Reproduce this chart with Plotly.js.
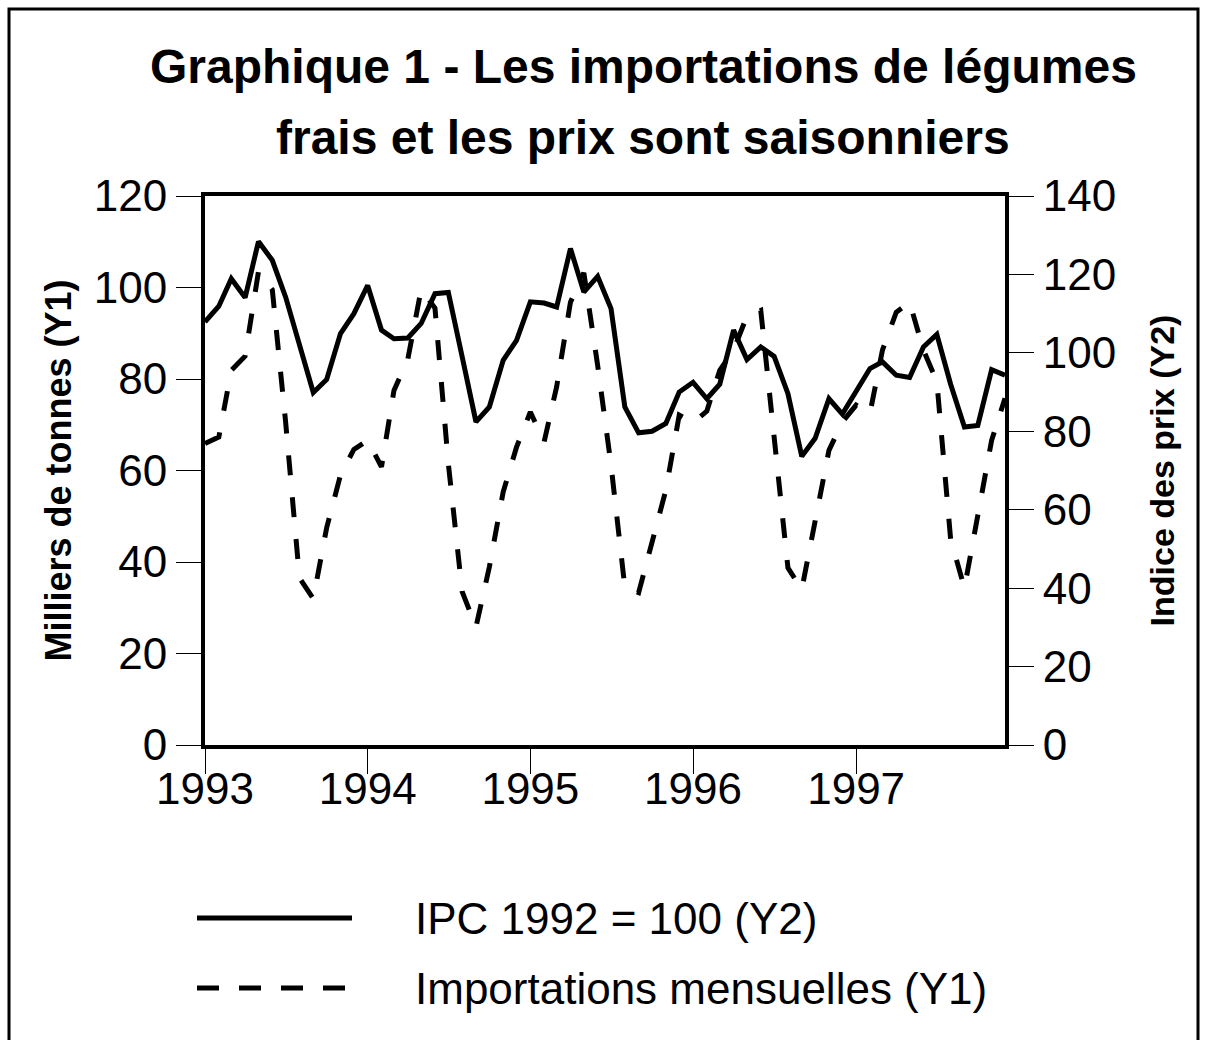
<!DOCTYPE html>
<html>
<head>
<meta charset="utf-8">
<script src="https://cdn.plot.ly/plotly-3.0.1.min.js"></script>
<style>
html,body{margin:0;padding:0;background:#ffffff;}
#chart{width:1207px;height:1040px;}
</style>
</head>
<body>
<div id="chart"></div>
<script>
// ---- Data ----
const months = [
  '1993-01','1993-02','1993-03','1993-04','1993-05','1993-06','1993-07','1993-08','1993-09','1993-10','1993-11','1993-12',
  '1994-01','1994-02','1994-03','1994-04','1994-05','1994-06','1994-07','1994-08','1994-09','1994-10','1994-11','1994-12',
  '1995-01','1995-02','1995-03','1995-04','1995-05','1995-06','1995-07','1995-08','1995-09','1995-10','1995-11','1995-12',
  '1996-01','1996-02','1996-03','1996-04','1996-05','1996-06','1996-07','1996-08','1996-09','1996-10','1996-11','1996-12',
  '1997-01','1997-02','1997-03','1997-04','1997-05','1997-06','1997-07','1997-08','1997-09','1997-10','1997-11','1997-12'
];

// IPC 1992 = 100 (right axis, Y2)
const ipc = [
  107.9,111.9,118.9,114.1,128.4,123.6,114.2,101.5,89.9,93.2,104.9,110.0,
  117.2,105.8,103.6,103.8,107.5,115.1,115.4,99.0,82.4,86.2,98.1,103.2,
  113.0,112.7,111.7,126.6,115.5,119.5,111.3,86.2,79.6,80.0,82.0,90.0,
  92.5,88.3,92.0,105.8,98.3,101.5,99.1,89.6,73.6,78.2,88.3,84.4,
  90.3,96.0,97.7,94.3,93.7,101.5,104.7,92.0,81.1,81.5,95.7,94.3
];

// Importations mensuelles, milliers de tonnes (left axis, Y1)
const importations = [
  65.9,67.3,81.9,85.0,103.5,99.5,70.5,36.5,32.0,47.5,59.0,64.6,
  66.6,60.8,77.5,84.3,99.6,95.5,61.5,33.5,25.8,38.9,55.3,65.1,
  72.8,66.3,78.3,96.8,103.2,83.0,61.2,34.5,33.3,44.4,55.7,72.1,
  70.4,73.0,81.9,86.3,93.8,95.0,66.0,38.7,34.0,49.5,64.4,70.6,
  74.3,72.5,86.3,94.6,96.8,86.3,79.5,45.0,34.3,50.2,66.6,75.8
];

const yearTickVals = ['1993-01-01','1994-01-01','1995-01-01','1996-01-01','1997-01-01'];
const yearTickText = ['1993','1994','1995','1996','1997'];
const y1TickVals = [0,20,40,60,80,100,120];
const y2TickVals = [0,20,40,60,80,100,120,140];
const seriesNames = ['IPC 1992 = 100 (Y2)','Importations mensuelles (Y1)'];
const titleLines = ['Graphique 1 - Les importations de légumes','frais et les prix sont saisonniers'];
const y1Title = 'Milliers de tonnes (Y1)';
const y2Title = 'Indice des prix (Y2)';

// ---- Layout geometry ----
const FONT = 'Liberation Sans, Arial, Helvetica, sans-serif';
const W = 1207, H = 1040;
const M = {l:205, r:202, t:196, b:295};
const PW = W - M.l - M.r, PH = H - M.t - M.b;
const px = x => (x - M.l) / PW;
const py = y => (M.t + PH - y) / PH;

const traces = [
  {
    x: months, y: importations, name: seriesNames[1], type: 'scatter', mode: 'lines',
    yaxis: 'y', line: {color: '#000', width: 5, dash: '20px,22px'}
  },
  {
    x: months, y: ipc, name: seriesNames[0], type: 'scatter', mode: 'lines',
    yaxis: 'y2', line: {color: '#000', width: 5}
  }
];

const axisCommon = {
  showgrid: false, zeroline: false, showline: true, linecolor: '#000', linewidth: 4,
  ticks: 'outside', ticklen: 25, tickwidth: 1, tickcolor: '#000',
  tickfont: {family: FONT, size: 44, color: '#000'}, fixedrange: true
};

const layout = {
  width: W, height: H,
  margin: M,
  paper_bgcolor: '#fff', plot_bgcolor: '#fff',
  showlegend: false,
  font: {family: FONT, color: '#000'},
  xaxis: Object.assign({}, axisCommon, {
    type: 'date', range: ['1993-01-01','1997-12-01'],
    tickmode: 'array', tickvals: yearTickVals, ticktext: yearTickText,
    mirror: true, ticklabelstandoff: -23
  }),
  yaxis: Object.assign({}, axisCommon, {
    range: [0,120], tickmode: 'array', tickvals: y1TickVals,
    title: {text: y1Title, font: {family: FONT, size: 36, weight: 'bold', color: '#000'}, standoff: 12}
  }),
  yaxis2: Object.assign({}, axisCommon, {
    range: [0,140], tickmode: 'array', tickvals: y2TickVals,
    overlaying: 'y', side: 'right',
    title: {text: y2Title, font: {family: FONT, size: 34, weight: 'bold', color: '#000'}, standoff: 36}
  }),
  annotations: [
    {text: titleLines[0], xref: 'paper', yref: 'paper', x: px(643), y: py(67), xanchor: 'center', yanchor: 'middle', showarrow: false,
     font: {family: FONT, size: 48, weight: 'bold', color: '#000'}},
    {text: titleLines[1], xref: 'paper', yref: 'paper', x: px(643), y: py(138), xanchor: 'center', yanchor: 'middle', showarrow: false,
     font: {family: FONT, size: 48, weight: 'bold', color: '#000'}},
    {text: seriesNames[0], xref: 'paper', yref: 'paper', x: px(413), y: py(918), xanchor: 'left', yanchor: 'middle', showarrow: false,
     font: {family: FONT, size: 44, color: '#000'}},
    {text: seriesNames[1], xref: 'paper', yref: 'paper', x: px(413), y: py(988), xanchor: 'left', yanchor: 'middle', showarrow: false,
     font: {family: FONT, size: 44, color: '#000'}}
  ],
  shapes: [
    {type: 'rect', xref: 'paper', yref: 'paper', x0: px(9), x1: px(1198), y0: py(1070), y1: py(9),
     line: {color: '#000', width: 3}, layer: 'below'},
    {type: 'line', xref: 'paper', yref: 'paper', x0: px(197), x1: px(352), y0: py(918), y1: py(918),
     line: {color: '#000', width: 5}},
    {type: 'line', xref: 'paper', yref: 'paper', x0: px(197), x1: px(345), y0: py(988), y1: py(988),
     line: {color: '#000', width: 5, dash: '22px,20px'}}
  ]
};

Plotly.newPlot('chart', traces, layout, {displayModeBar: false, staticPlot: true});
</script>
</body>
</html>
